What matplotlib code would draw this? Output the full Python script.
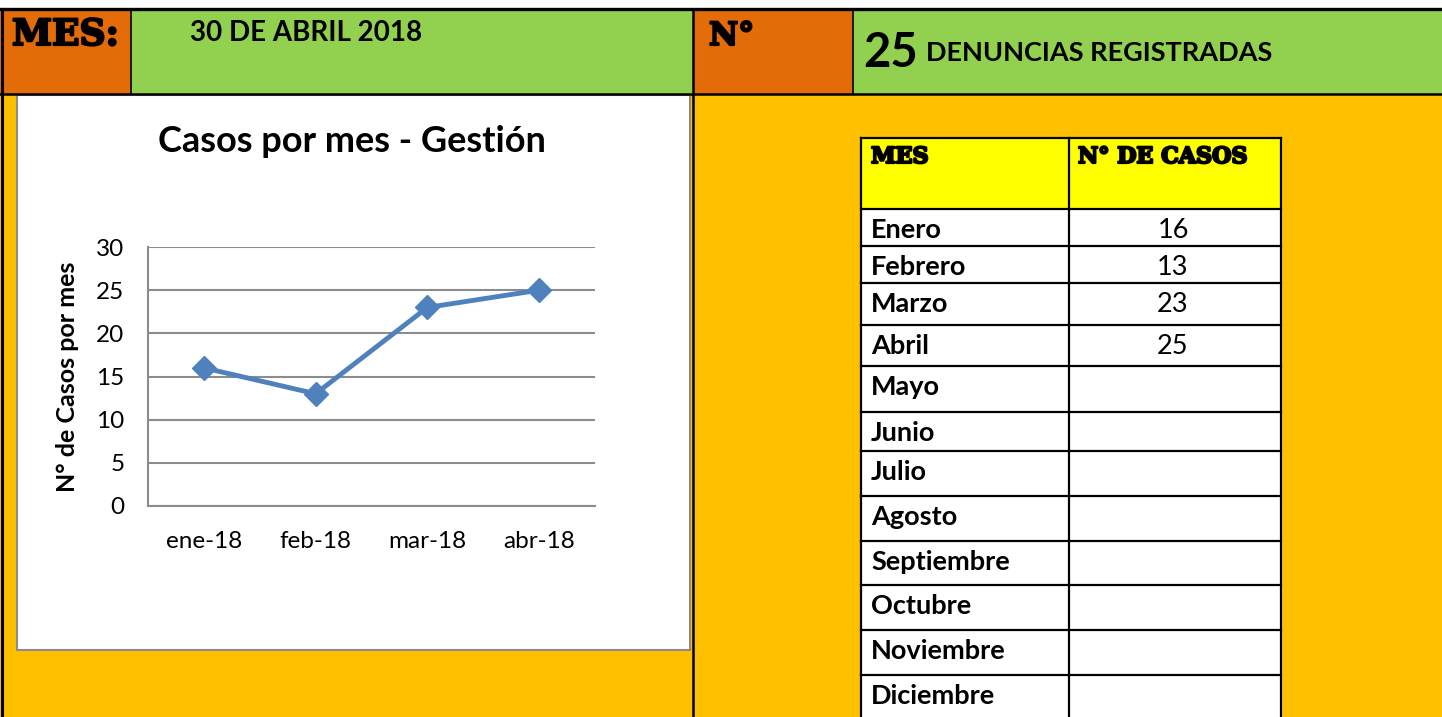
import matplotlib.pyplot as plt
import matplotlib.patheffects as pe
from matplotlib.patches import Rectangle

# data
meses_cortos = ['ene-18', 'feb-18', 'mar-18', 'abr-18']
casos = [16, 13, 23, 25]
meses = ['Enero', 'Febrero', 'Marzo', 'Abril', 'Mayo', 'Junio', 'Julio',
         'Agosto', 'Septiembre', 'Octubre', 'Noviembre', 'Diciembre']
fecha = '30 DE ABRIL 2018'
total = 25

# colours
ambar = '#FFC000'
naranja = '#E36C09'
verde = '#92D050'
amarillo = '#FFFF00'
azul = '#4F81BD'

W, H = 1442, 717
fig = plt.figure(figsize=(W / 100, H / 100), dpi=100)
fig.patch.set_facecolor('white')

# background canvas in pixel coords
bg = fig.add_axes([0, 0, 1, 1])
bg.set_xlim(0, W)
bg.set_ylim(H, 0)
bg.axis('off')

sans = 'Lato'
slab = 'DejaVu Serif'
grueso = [pe.withStroke(linewidth=1.6, foreground='black')]

bg.add_patch(Rectangle((0, 94), W, H - 94, color=ambar, zorder=0))
bg.add_patch(Rectangle((0, 9), 131, 85, color=naranja, zorder=0))
bg.add_patch(Rectangle((131, 9), 562, 85, color=verde, zorder=0))
bg.add_patch(Rectangle((693, 9), 160, 85, color=naranja, zorder=0))
bg.add_patch(Rectangle((853, 9), W - 853, 85, color=verde, zorder=0))

# header borders
bg.plot([0, W], [9, 9], color='black', lw=2.4)
bg.plot([0, W], [94, 94], color='black', lw=1.8)
bg.plot([2, 2], [9, H], color='black', lw=2.2)
bg.plot([693, 693], [9, H], color='black', lw=1.8)
bg.plot([131, 131], [9, 94], color='black', lw=1.2)
bg.plot([853, 853], [9, 94], color='black', lw=1.2)

# header texts
bg.text(12, 45, 'MES:', family=slab, weight='bold', fontsize=26, va='baseline',
        path_effects=grueso)
bg.text(190, 41, fecha, family=sans, weight='bold', fontsize=20, va='baseline')
bg.text(709, 45, 'N°', family=slab, weight='bold', fontsize=23, va='baseline',
        path_effects=grueso)
bg.text(863, 67, str(total), family=sans, weight='bold', fontsize=34, va='baseline')
bg.text(926, 61, 'DENUNCIAS REGISTRADAS', family=sans, weight='bold', fontsize=19.5,
        va='baseline')

# chart frame
bg.add_patch(Rectangle((17, 95), 673, 555, facecolor='white', edgecolor='#8C8C8C',
                       lw=1.5, zorder=1))
bg.text(352, 141, 'Casos por mes - Gestión', family=sans, weight='bold',
        fontsize=26, ha='center', va='center', zorder=2)

# table
tx0, tx1, tx2 = 861, 1069, 1281
filas = [138, 209, 246, 283, 325, 366, 412, 451, 496, 541, 585, 630, 675, 720]
bg.add_patch(Rectangle((tx0, filas[0]), tx2 - tx0, filas[1] - filas[0],
                       color=amarillo, zorder=1))
bg.add_patch(Rectangle((tx0, filas[1]), tx2 - tx0, H - filas[1],
                       color='white', zorder=1))
for y in filas:
    bg.plot([tx0, tx2], [y, y], color='black', lw=1.6, zorder=3)
for x in [tx0, tx1, tx2]:
    bg.plot([x, x], [filas[0], H], color='black', lw=1.6, zorder=3)

bg.text(871, 163, 'MES', family=slab, weight='bold', fontsize=16, va='baseline',
        zorder=4, path_effects=grueso)
bg.text(1078, 163, 'N° DE CASOS', family=slab, weight='bold', fontsize=16,
        va='baseline', zorder=4, path_effects=grueso)
for i, mes in enumerate(meses):
    top = filas[i + 1]
    bg.text(871, top + 29, mes, family=sans, weight='bold', fontsize=19.5,
            va='baseline', zorder=4)
    if i < len(casos):
        bg.text(1173, top + 29, str(casos[i]), family=sans, fontsize=19.5,
                ha='center', va='baseline', zorder=4)

# line chart
ax = fig.add_axes([148 / W, 1 - 506 / H, 447 / W, 259 / H])
ax.set_facecolor('white')
x = list(range(len(casos)))
ax.plot(x, casos, color=azul, lw=3.5, marker='D', markersize=12, zorder=3)
ax.set_xlim(-0.5, len(casos) - 0.5)
ax.set_ylim(0, 30)
ax.set_yticks(range(0, 31, 5))
ax.set_xticks(x)
ax.set_xticklabels(meses_cortos)
ax.grid(axis='y', color='#8C8C8C', lw=1.5)
ax.set_axisbelow(True)
for s in ['top', 'right']:
    ax.spines[s].set_visible(False)
for s in ['left', 'bottom']:
    ax.spines[s].set_color('#8C8C8C')
    ax.spines[s].set_linewidth(1.5)
ax.tick_params(length=0, labelsize=17.5, pad=17)
ax.tick_params(axis='x', pad=18)
for lab in ax.get_xticklabels() + ax.get_yticklabels():
    lab.set_family(sans)
ax.set_ylabel('N° de Casos por mes', family=sans, weight='bold', fontsize=18,
              labelpad=12)

fig.savefig('out.png', dpi=100)
